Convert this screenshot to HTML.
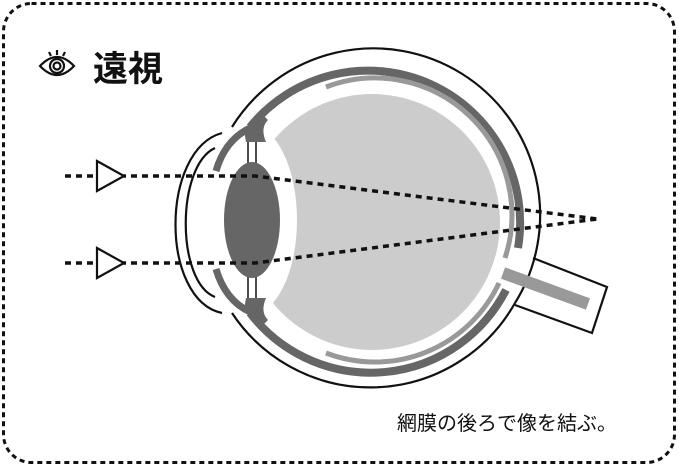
<!DOCTYPE html>
<html><head><meta charset="utf-8"><style>
html,body{margin:0;padding:0;background:#fff;}
svg{display:block;}
</style></head><body>
<svg width="679" height="467" viewBox="0 0 679 467" xmlns="http://www.w3.org/2000/svg">
<rect x="3.5" y="3.5" width="671" height="459" rx="28" fill="none" stroke="#111" stroke-width="3" stroke-dasharray="5,4"/>
<g stroke="#111" fill="none" stroke-width="2.2">
<path d="M40,66 Q57,48 74,66 Q57,84 40,66 Z"/>
<circle cx="57" cy="66" r="7"/>
<circle cx="57" cy="66" r="3.5"/>
<line x1="57" y1="50" x2="57" y2="55"/><line x1="49" y1="52" x2="51" y2="56"/><line x1="65" y1="52" x2="63" y2="56"/>
</g>
<text x="93" y="81" font-family="'Liberation Sans','Noto Sans CJK JP',sans-serif" font-size="35" font-weight="bold" fill="#111">遠視</text>
<circle cx="372" cy="222" r="128" fill="#cccccc"/>
<ellipse cx="250" cy="220" rx="47" ry="95" fill="#fff"/>
<path d="M232,127 A166,166 0 1 1 515,303" fill="none" stroke="#111" stroke-width="2.2"/>
<path d="M533,258 L607,287 L592,333 L515,305" fill="none" stroke="#111" stroke-width="2.2"/>
<path d="M232,313 A166,166 0 0 0 515,303" fill="none" stroke="#111" stroke-width="2.2"/>
<path d="M250,127 A152,152 0 0 1 518,248" fill="none" stroke="#666" stroke-width="8"/>
<path d="M250,313 A152,152 0 0 0 506,290" fill="none" stroke="#666" stroke-width="8"/>
<path d="M326,87 A137,137 0 0 1 505,258" fill="none" stroke="#999" stroke-width="5"/>
<path d="M326,353 A137,137 0 0 0 499,283" fill="none" stroke="#999" stroke-width="5"/>
<line x1="503" y1="273" x2="588" y2="304" stroke="#999" stroke-width="12"/>
<path d="M244,130 Q252,120 262,114 L268,120 Q260,128 266,142 L246,142 Z" fill="#666"/>
<path d="M244,310 Q252,320 262,326 L268,320 Q260,312 266,298 L246,298 Z" fill="#666"/>
<path d="M216,171 Q225,140 250,128" fill="none" stroke="#666" stroke-width="7"/>
<path d="M216,269 Q225,300 250,312" fill="none" stroke="#666" stroke-width="7"/>
<g stroke="#111" stroke-width="1.5">
<line x1="248" y1="142" x2="248" y2="166"/><line x1="256" y1="142" x2="256" y2="166"/>
<line x1="248" y1="274" x2="248" y2="298"/><line x1="256" y1="274" x2="256" y2="298"/>
</g>
<ellipse cx="252" cy="220" rx="28" ry="58" fill="#666"/>
<path d="M222,133 C160,150 160,300 222,313" fill="none" stroke="#111" stroke-width="2.2"/>
<path d="M215,148 C176,166 176,282 215,297" fill="none" stroke="#111" stroke-width="2.2"/>
<g stroke="#111" stroke-width="3.5" stroke-dasharray="6,5" fill="none">
<path d="M65,176 L255,176 L597,219"/>
<path d="M65,263 L255,263 L597,219"/>
</g>
<polygon points="97,161 124,176 97,191" fill="#fff" stroke="#111" stroke-width="2.2"/>
<polygon points="97,248 124,263 97,278" fill="#fff" stroke="#111" stroke-width="2.2"/>
<text x="397" y="430" font-family="'Liberation Sans','Noto Sans CJK JP',sans-serif" font-size="20" fill="#111">網膜の後ろで像を結ぶ。</text>
</svg>
</body></html>
